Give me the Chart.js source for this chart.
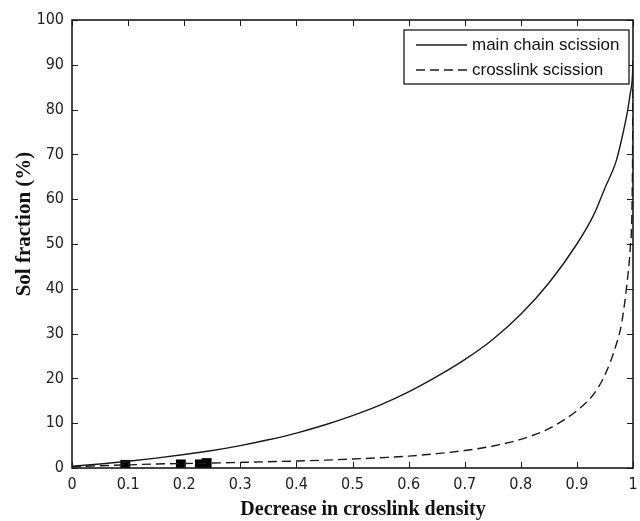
<!DOCTYPE html>
<html>
<head>
<meta charset="utf-8">
<script src="https://cdn.jsdelivr.net/npm/chart.js@4.4.1/dist/chart.umd.min.js"></script>
<style>
  html, body { margin: 0; padding: 0; background: #fff; }
</style>
</head>
<body>
<canvas id="solChart" width="640" height="521"></canvas>
<script>
// 数据
const decrease = [0, 0.05, 0.1, 0.15, 0.2, 0.25, 0.3, 0.35, 0.4, 0.45, 0.5, 0.55, 0.6, 0.65,
                  0.7, 0.75, 0.8, 0.85, 0.9, 0.93, 0.95, 0.97, 0.98, 0.99, 0.995, 0.999, 1];
const mainChain = [0.4, 0.9, 1.5, 2.2, 3.0, 3.9, 5.0, 6.3, 7.8, 9.6, 11.7, 14.1, 17.0, 20.4,
                   24.2, 28.7, 34.3, 41.3, 50.0, 56.5, 62.5, 68.5, 73.5, 79.5, 83.5, 87.5, 91];
const crosslink = [0.3, 0.5, 0.7, 0.9, 1.0, 1.1, 1.25, 1.4, 1.55, 1.75, 2.0, 2.3, 2.65, 3.2,
                   3.9, 4.9, 6.4, 8.8, 12.8, 16.5, 20.8, 27.5, 32.5, 42, 49, 65, 90];
const expX = [0.095, 0.194, 0.228, 0.24];
const expY = [0.7, 0.8, 0.8, 1.1];
const xTicks = [0, 0.1, 0.2, 0.3, 0.4, 0.5, 0.6, 0.7, 0.8, 0.9, 1];
const yTicks = [0, 10, 20, 30, 40, 50, 60, 70, 80, 90, 100];
const xTitle = 'Decrease in crosslink density';
const yTitle = 'Sol fraction (%)';

const ink = '#1a1a1a';
const tickFont = { family: '"Liberation Sans Narrow", "DejaVu Sans Condensed", "Liberation Sans", Arial', size: 16 };

function toPoints(xs, ys) {
    return xs.map((x, i) => ({ x: x, y: ys[i] }));
}

// 坐标框 + 内向刻度（四边）
const framePlugin = {
    id: 'frame',
    afterDatasetsDraw(chart) {
        const { ctx, chartArea: a, scales } = chart;
        const len = 6;
        ctx.save();
        ctx.strokeStyle = ink;
        ctx.lineWidth = 1;
        ctx.beginPath();
        xTicks.forEach(v => {
            const px = Math.round(scales.x.getPixelForValue(v)) + 0.5;
            ctx.moveTo(px, a.bottom); ctx.lineTo(px, a.bottom - len);
            ctx.moveTo(px, a.top); ctx.lineTo(px, a.top + len);
        });
        yTicks.forEach(v => {
            const py = Math.round(scales.y.getPixelForValue(v)) + 0.5;
            ctx.moveTo(a.left, py); ctx.lineTo(a.left + len, py);
            ctx.moveTo(a.right, py); ctx.lineTo(a.right - len, py);
        });
        ctx.stroke();
        ctx.lineWidth = 1.6;
        ctx.strokeRect(a.left, a.top, a.right - a.left, a.bottom - a.top);
        ctx.restore();
    }
};

// 图例（右上角带框）
const legendPlugin = {
    id: 'boxLegend',
    afterDraw(chart) {
        const { ctx, chartArea: a } = chart;
        const box = { left: a.right - 229, top: a.top + 10, right: a.right - 4, bottom: a.top + 64 };
        ctx.save();
        ctx.fillStyle = '#fff';
        ctx.fillRect(box.left, box.top, box.right - box.left, box.bottom - box.top);
        ctx.strokeStyle = ink;
        ctx.lineWidth = 1.3;
        ctx.strokeRect(box.left, box.top, box.right - box.left, box.bottom - box.top);
        ctx.font = '17px "Liberation Sans", Arial';
        ctx.textBaseline = 'middle';
        ctx.fillStyle = '#111';
        [0, 1].forEach(i => {
            const ds = chart.data.datasets[i];
            const y = box.top + 15 + i * 25;
            ctx.beginPath();
            ctx.lineWidth = ds.borderWidth;
            ctx.setLineDash(ds.borderDash || []);
            ctx.moveTo(box.left + 12, y);
            ctx.lineTo(box.left + 63, y);
            ctx.stroke();
            ctx.setLineDash([]);
            ctx.fillText(ds.label, box.left + 68, y);
        });
        ctx.restore();
    }
};

// 轴标题
const titlePlugin = {
    id: 'axisTitles',
    afterDraw(chart) {
        const { ctx } = chart;
        ctx.save();
        ctx.fillStyle = '#111';
        ctx.font = 'bold 20px "Liberation Serif", "Times New Roman", serif';
        ctx.textAlign = 'center';
        ctx.textBaseline = 'middle';
        ctx.fillText(xTitle, 363, 510);
        ctx.font = 'bold 21px "Liberation Serif", "Times New Roman", serif';
        ctx.translate(25, 224);
        ctx.rotate(-Math.PI / 2);
        ctx.fillText(yTitle, 0, 0);
        ctx.restore();
    }
};

new Chart(document.getElementById('solChart'), {
    type: 'line',
    data: {
        datasets: [{
            label: 'main chain scission',
            data: toPoints(decrease, mainChain),
            borderColor: ink,
            borderWidth: 1.4,
            pointRadius: 0,
            cubicInterpolationMode: 'monotone'
        }, {
            label: 'crosslink scission',
            data: toPoints(decrease, crosslink),
            borderColor: ink,
            borderWidth: 1.4,
            borderDash: [9, 5],
            pointRadius: 0,
            cubicInterpolationMode: 'monotone'
        }, {
            label: 'experiment',
            data: toPoints(expX, expY),
            showLine: false,
            pointStyle: 'rect',
            pointRadius: 7,
            backgroundColor: '#000',
            borderColor: '#000',
            borderWidth: 0
        }]
    },
    options: {
        responsive: false,
        animation: false,
        events: [],
        layout: { padding: { top: 20, right: 6, left: 0, bottom: 0 } },
        plugins: { legend: { display: false }, tooltip: { enabled: false } },
        scales: {
            x: {
                type: 'linear',
                min: 0,
                max: 1,
                grid: { display: false, drawTicks: false },
                border: { display: false },
                afterBuildTicks: s => { s.ticks = xTicks.map(v => ({ value: v })); },
                afterFit: s => { s.height = 53; s.paddingLeft = 0; s.paddingRight = 0; },
                ticks: {
                    padding: 7,
                    color: '#222',
                    font: tickFont,
                    maxRotation: 0,
                    autoSkip: false,
                    callback: v => String(+v.toFixed(1))
                }
            },
            y: {
                min: 0,
                max: 100,
                grid: { display: false, drawTicks: false },
                border: { display: false },
                afterBuildTicks: s => { s.ticks = yTicks.map(v => ({ value: v })); },
                afterFit: s => { s.width = 72; s.paddingTop = 0; s.paddingBottom = 0; },
                ticks: { padding: 8, color: '#222', font: tickFont, autoSkip: false }
            }
        }
    },
    plugins: [framePlugin, legendPlugin, titlePlugin]
});
</script>
</body>
</html>
